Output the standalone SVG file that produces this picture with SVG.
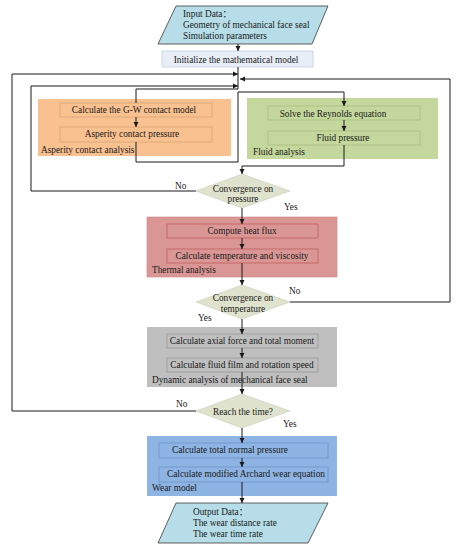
<svg xmlns="http://www.w3.org/2000/svg" width="461" height="550" viewBox="0 0 461 550">
<defs>
<marker id="ah" markerWidth="6" markerHeight="6" refX="5" refY="3" orient="auto" markerUnits="userSpaceOnUse">
<path d="M0,0.5 L5,3 L0,5.5 Z" fill="#1a1a1a"/>
</marker>
<style>
text{font-family:"Liberation Serif","Noto Sans CJK SC",serif;font-size:9.3px;fill:#1a1a1a}
.c{text-anchor:middle}
.para{fill:#b7dee8;stroke:#3a3a3a;stroke-width:0.8}
.init{fill:#e8eef8;stroke:#c5cde0;stroke-width:0.8}
.dia{fill:#dfe3cd;stroke:#c8ccb8;stroke-width:0.6}
.orange{fill:#f9c090}
.orange-in{fill:none;stroke:#d9a678;stroke-width:0.8}
.green{fill:#c4d79c}
.green-in{fill:none;stroke:#a9bf82;stroke-width:0.8}
.red{fill:#d99694;stroke:#cf8684;stroke-width:0.6}
.red-in{fill:none;stroke:#c0605e;stroke-width:0.8}
.gray{fill:#bfbfbf}
.gray-in{fill:none;stroke:#999;stroke-width:0.8}
.blue{fill:#8eb4e3}
.blue-in{fill:none;stroke:#6f95c9;stroke-width:0.8}
.ln{fill:none;stroke:#1a1a1a;stroke-width:1}
.arr{marker-end:url(#ah)}
</style>
</defs>

<g id="input">
<polygon class="para" points="176,6 328,6 312,44 158,44"/>
<text x="183" y="17">Input Data：</text>
<text x="183" y="28">Geometry of mechanical face seal</text>
<text x="183" y="39">Simulation parameters</text>
</g>

<g id="init">
<rect class="init" x="162" y="51" width="151" height="16"/>
<text class="c" x="236" y="63">Initialize the mathematical model</text>
</g>

<g id="asperity-analysis">
<rect class="orange" x="38" y="99" width="193" height="57"/>
<rect class="orange-in" x="60" y="103" width="152" height="14"/>
<text class="c" x="134" y="113">Calculate the G-W contact model</text>
<rect class="orange-in" x="60" y="127" width="152" height="15"/>
<text class="c" x="132" y="137">Asperity contact pressure</text>
<text x="41" y="153">Asperity contact analysis</text>
</g>

<g id="fluid-analysis">
<rect class="green" x="247" y="98" width="191" height="61"/>
<rect class="green-in" x="268" y="106" width="152" height="14"/>
<text class="c" x="333" y="117">Solve the Reynolds equation</text>
<rect class="green-in" x="268" y="131" width="152" height="14"/>
<text class="c" x="343" y="141">Fluid pressure</text>
<text x="253" y="155">Fluid analysis</text>
</g>

<g id="conv-pressure">
<polygon class="dia" points="242,174 290,191 242,208 196,191"/>
<text class="c" x="243" y="192">Convergence on</text>
<text class="c" x="243" y="202">pressure</text>
</g>

<g id="thermal-analysis">
<rect class="red" x="147" y="217" width="190" height="60"/>
<rect class="red-in" x="167" y="224" width="151" height="14"/>
<text class="c" x="242" y="234">Compute heat flux</text>
<rect class="red-in" x="167" y="249" width="151" height="14"/>
<text class="c" x="242" y="259">Calculate temperature and viscosity</text>
<text x="152" y="273">Thermal analysis</text>
</g>

<g id="conv-temperature">
<polygon class="dia" points="242,285 290,302 242,319 196,302"/>
<text class="c" x="243" y="301">Convergence on</text>
<text class="c" x="243" y="312">temperature</text>
</g>

<g id="dynamic-analysis">
<rect class="gray" x="147" y="327" width="190" height="60"/>
<rect class="gray-in" x="167" y="334" width="151" height="14"/>
<text class="c" x="242" y="344">Calculate axial force and total moment</text>
<rect class="gray-in" x="167" y="358" width="151" height="14"/>
<text class="c" x="242" y="368">Calculate fluid film and rotation speed</text>
<text x="152" y="383">Dynamic analysis of mechanical face seal</text>
</g>

<g id="reach-time">
<polygon class="dia" points="242,394 290,411 242,428 196,411"/>
<text class="c" x="243" y="415">Reach the time?</text>
</g>

<g id="wear-model">
<rect class="blue" x="147" y="436" width="190" height="60"/>
<rect class="blue-in" x="159" y="443" width="169" height="15"/>
<text x="172" y="453">Calculate total normal pressure</text>
<rect class="blue-in" x="159" y="467" width="169" height="15"/>
<text x="167" y="477">Calculate modified Archard wear equation</text>
<text x="152" y="491">Wear model</text>
</g>

<g id="output">
<polygon class="para" points="176,503 328,503 308,543 158,543"/>
<text x="193" y="515">Output Data：</text>
<text x="193" y="526">The wear distance rate</text>
<text x="193" y="537">The wear time rate</text>
</g>

<g id="connectors">
<path class="ln arr" d="M238,44 V51"/>
<path class="ln" d="M238,67 V89 H136 V103"/>
<path class="ln arr" d="M136,117 V127"/>
<path class="ln arr" d="M136,142 V162 H238 V92 H344 V106"/>
<path class="ln arr" d="M344,120 V131"/>
<path class="ln arr" d="M344,145 V166 H242 V174"/>
<path class="ln arr" d="M196,191 H31 V86 H238"/>
<path class="ln arr" d="M242,208 V224"/>
<path class="ln arr" d="M242,238 V249"/>
<path class="ln arr" d="M242,263 V285"/>
<path class="ln arr" d="M290,302 H450 V79 H240"/>
<path class="ln arr" d="M242,319 V334"/>
<path class="ln arr" d="M242,348 V358"/>
<path class="ln arr" d="M242,372 V394"/>
<path class="ln arr" d="M196,411 H12 V74 H238"/>
<path class="ln arr" d="M242,428 V443"/>
<path class="ln arr" d="M242,458 V467"/>
<path class="ln arr" d="M242,482 V503"/>
<text x="175" y="189">No</text>
<text x="284" y="210">Yes</text>
<text x="289" y="294">No</text>
<text x="198" y="321">Yes</text>
<text x="176" y="407">No</text>
<text x="283" y="427">Yes</text>
</g>
</svg>
